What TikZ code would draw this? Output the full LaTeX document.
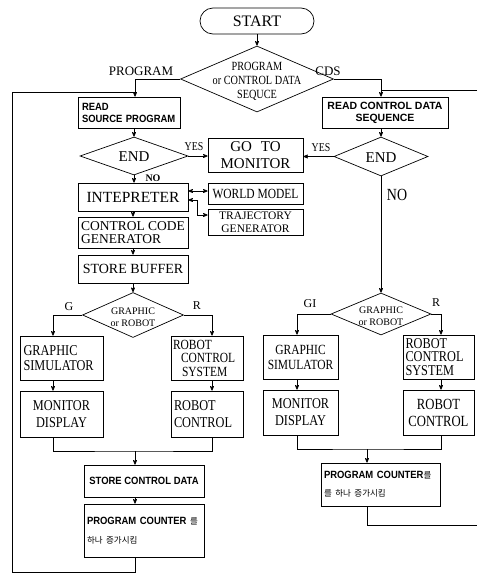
\documentclass[tikz,border=0pt]{standalone}
\usepackage{fontspec}
\setmainfont{Liberation Serif}
\setsansfont{Liberation Sans}
\newfontfamily\condfont[FakeStretch=0.82]{Liberation Serif}
\newfontfamily\narrowfont[FakeStretch=0.9]{Liberation Sans}
\newfontfamily\krfont{Noto Sans CJK KR}
\usetikzlibrary{arrows,shapes.geometric}
\newcommand{\setfs}[2]{\fontsize{#1}{#2}\selectfont}

\begin{document}
\begin{tikzpicture}[x=1pt,y=-1pt,->,>=stealth',line width=0.7pt,
  box node/.style={draw,rectangle,inner sep=1pt},
  dec node/.style={draw,diamond,inner sep=0pt},
  txt node/.style={inner sep=0pt,align=center}]

  \useasboundingbox (0,0) rectangle (477,573);

  % top
  \node[draw,rounded corners=13pt,minimum width=114pt,minimum height=26pt,font=\setfs{16}{16}] (start) at (257,21) {START};
  \node[dec node,minimum width=153pt,minimum height=66pt] (choice) at (257,79) {};
  \node[txt node,font=\condfont\setfs{12.5}{14}] (choicetxt) at (257,81) {PROGRAM\\or CONTROL DATA\\SEQUCE};
  \node[txt node,font=\setfs{13}{13}] (lprog) at (141,71) {PROGRAM};
  \node[txt node,font=\setfs{13}{13}] (lcds) at (328,71) {CDS};

  % program side
  \node[box node,minimum width=102pt,minimum height=31pt,text width=94pt,align=left,font=\narrowfont\bfseries\setfs{10.5}{12}] (readsrc) at (129,112.5) {READ\\SOURCE PROGRAM};
  \node[dec node,minimum width=108pt,minimum height=38pt] (endL) at (134,156) {};
  \node[txt node,font=\setfs{15}{15}] (endLtxt) at (134,157) {END};
  \node[box node,minimum width=95pt,minimum height=34pt,inner sep=0pt,align=center,font=\setfs{15}{16.5}] (monitor) at (255.5,155) {GO\hspace{9pt}TO\\MONITOR};
  \node[box node,minimum width=110pt,minimum height=28pt,font=\setfs{15.5}{16}] (interp) at (133,197) {INTEPRETER};
  \node[box node,minimum width=95pt,minimum height=21pt,font=\condfont\setfs{14}{14}] (world) at (255.5,193.5) {WORLD MODEL};
  \node[box node,minimum width=95pt,minimum height=26pt,font=\setfs{11.5}{12.5},align=center] (traj) at (255.5,222) {TRAJECTORY\\GENERATOR};
  \node[box node,minimum width=110pt,minimum height=31pt,inner sep=3pt,align=left,font=\setfs{13.5}{12.5}] (ccgen) at (133,232.5) {CONTROL CODE\\GENERATOR};
  \node[box node,minimum width=110pt,minimum height=28pt,font=\setfs{14}{14}] (buffer) at (133,269) {STORE BUFFER};
  \node[dec node,minimum width=101pt,minimum height=45pt] (gorL) at (133,315) {};
  \node[txt node,font=\setfs{10}{12}] (gorLtxt) at (133,317) {GRAPHIC\\or ROBOT};
  \node[box node,minimum width=83pt,minimum height=44pt,text width=76pt,align=left,font=\condfont\setfs{15}{15}] (gsimL) at (61.5,358) {GRAPHIC\\SIMULATOR};
  \node[box node,minimum width=83pt,minimum height=46pt,align=center,font=\condfont\setfs{15}{17}] (mdispL) at (61.5,414) {MONITOR\\DISPLAY};
  \node[box node,minimum width=72pt,minimum height=44pt,text width=68pt,align=left,font=\condfont\setfs{14}{13.5}] (rcsL) at (207,358) {ROBOT\\\hspace*{8pt}CONTROL\\\hspace*{9pt}SYSTEM};
  \node[box node,minimum width=72pt,minimum height=46pt,text width=66pt,align=left,font=\condfont\setfs{15}{17}] (rctlL) at (207,414) {ROBOT\\CONTROL};
  \node[box node,minimum width=120pt,minimum height=32pt,font=\narrowfont\bfseries\setfs{10.5}{12}] (storecd) at (144,481) {STORE CONTROL DATA};
  \node[box node,minimum width=120pt,minimum height=53pt,text width=114pt,align=left,font=\narrowfont\bfseries\setfs{10.5}{19}] (pcL) at (144,530.5) {PROGRAM COUNTER{\krfont\mdseries\setfs{8.5}{8.5} 를}\\{\krfont\mdseries\setfs{8.5}{8.5}하나 증가시킴}};
  \node[txt node,font=\condfont\setfs{12}{12}] (yesL) at (194,147) {YES};
  \node[txt node,font=\bfseries\setfs{10}{10}] (noL) at (153,178) {NO};
  \node[txt node,font=\setfs{12}{12}] (gL) at (69,307) {G};
  \node[txt node,font=\setfs{12}{12}] (rL) at (197,306) {R};

  % control data side
  \node[box node,minimum width=126pt,minimum height=31pt,align=center,font=\sffamily\bfseries\setfs{10.5}{12}] (readcds) at (385,112.5) {READ CONTROL DATA\\SEQUENCE};
  \node[dec node,minimum width=94pt,minimum height=39pt] (endR) at (381,156.5) {};
  \node[txt node,font=\setfs{15}{15}] (endRtxt) at (381,157.5) {END};
  \node[dec node,minimum width=100pt,minimum height=42pt] (gorR) at (381,314) {};
  \node[txt node,font=\setfs{10}{12}] (gorRtxt) at (381,316) {GRAPHIC\\or ROBOT};
  \node[box node,minimum width=75pt,minimum height=44pt,align=center,font=\condfont\setfs{14}{15}] (gsimR) at (300.5,357) {GRAPHIC\\SIMULATOR};
  \node[box node,minimum width=75pt,minimum height=45pt,align=center,font=\condfont\setfs{15}{17}] (mdispR) at (300.5,412.5) {MONITOR\\DISPLAY};
  \node[box node,minimum width=71pt,minimum height=44pt,text width=66pt,align=left,font=\condfont\setfs{15}{13.5}] (rcsR) at (438.5,357) {ROBOT\\CONTROL\\SYSTEM};
  \node[box node,minimum width=71pt,minimum height=45pt,align=center,font=\condfont\setfs{15.5}{17}] (rctlR) at (438.5,412.5) {ROBOT\\CONTROL};
  \node[box node,minimum width=119pt,minimum height=43pt,text width=113pt,align=left,font=\narrowfont\bfseries\setfs{10.5}{18}] (pcR) at (380.5,484.5) {PROGRAM COUNTER{\krfont\mdseries\setfs{8.5}{8.5}를}\\{\krfont\mdseries\setfs{8.5}{8.5}를 하나 증가시킴}};
  \node[txt node,font=\condfont\setfs{12}{12}] (yesR) at (321,148) {YES};
  \node[txt node,font=\condfont\setfs{17}{17}] (noR) at (397,195) {NO};
  \node[txt node,font=\setfs{12}{12}] (giR) at (310,304) {GI};
  \node[txt node,font=\setfs{12}{12}] (rR) at (436,303) {R};

  % tap points
  \coordinate (srcin) at ([xshift=6pt]readsrc.north);
  \coordinate (cdsin) at ([xshift=-4pt]readcds.north);
  \coordinate (lb) at (12,572);
  \coordinate (lt) at (135,92);
  \coordinate (rt) at (477,90);
  \coordinate (rb) at (477,525);
  \coordinate (iw) at ([yshift=6pt]interp.east);
  \coordinate (it) at ([yshift=-3pt]interp.east);
  \coordinate (ti) at ([yshift=7pt]traj.west);
  \coordinate (gl) at ([xshift=-8.5pt]gsimL.north);
  \coordinate (rl) at ([xshift=5pt]rcsL.north);
  \coordinate (ml) at (135,451);
  \coordinate (gr) at ([xshift=-3.5pt]gsimR.north);
  \coordinate (rr) at ([xshift=2.5pt]rcsR.north);
  \coordinate (mr) at (367,449);

  % connectors
  \draw (start) -- (choice);
  \draw (choice.west) -| (srcin);
  \draw (choice.east) -| (cdsin);
  \draw[-] (ml |- pcL.south) |- (lb) |- (lt);
  \draw[-] (rt) -- (rt -| cdsin);
  \draw (readsrc.south -| endL.north) -- (endL.north);
  \draw (endL.east) -- (endL.east -| monitor.west);
  \draw (endL.south) -- (endL.south |- interp.north);
  \draw[<->] (iw) -- (iw -| world.west);
  \draw[<->] (it) -- ++(9pt,0) |- (ti);
  \draw (interp.south) -- (interp.south |- ccgen.north);
  \draw (ccgen) -- (buffer);
  \draw (buffer) -- (gorL);
  \draw (gorL.west) -| (gl);
  \draw (gorL.east) -| (rl);
  \draw (gl |- gsimL.south) -- (gl |- mdispL.north);
  \draw (rl |- rcsL.south) -- (rl |- rctlL.north);
  \draw[-] (gl |- mdispL.south) |- (ml) -| (rl |- rctlL.south);
  \draw (ml) -- (ml |- storecd.north);
  \draw (ml |- storecd.south) -- (ml |- pcL.north);

  \draw (cdsin |- readcds.south) -- (endR.north);
  \draw (endR.west) -- (endR.west -| monitor.east);
  \draw (endR.south) -- (gorR.north);
  \draw (gorR.west) -| (gr);
  \draw (gorR.east) -| (rr);
  \draw (gr |- gsimR.south) -- (gr |- mdispR.north);
  \draw (rr |- rcsR.south) -- (rr |- rctlR.north);
  \draw[-] (gr |- mdispR.south) |- (mr) -| (rr |- rctlR.south);
  \draw (mr) -- (mr |- pcR.north);
  \draw[-] (mr |- pcR.south) |- (rb);
\end{tikzpicture}
\end{document}
